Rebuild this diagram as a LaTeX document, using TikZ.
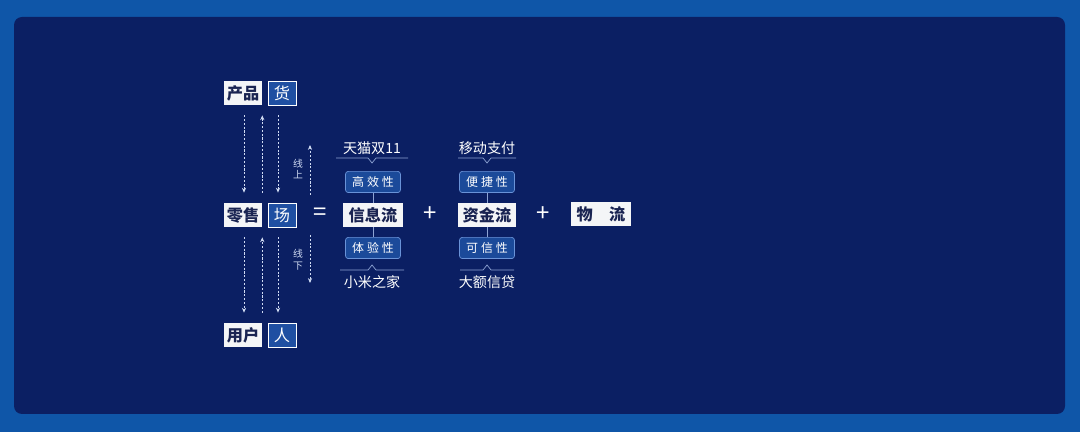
\documentclass[tikz,border=0pt]{standalone}
\usepackage{fontspec}
\setmainfont{Noto Sans CJK SC}
\usetikzlibrary{arrows.meta}

\definecolor{pagebg}{HTML}{0F56A8}
\definecolor{panelbg}{HTML}{0B1F63}
\definecolor{boxwhite}{HTML}{F4F5F7}
\definecolor{ink}{HTML}{1A2452}
\definecolor{tileblue}{HTML}{1F4FA2}
\definecolor{featfill}{HTML}{1B4A9A}
\definecolor{featrim}{HTML}{6A93D8}
\definecolor{dashcol}{HTML}{CFDAF2}
\definecolor{rulecol}{HTML}{8EA4D4}

\tikzset{
  word/.style={fill=boxwhite, text=ink, minimum height=0.6cm, inner sep=0pt, font=\bfseries\fontsize{11.5}{12}\selectfont},
  tile/.style={fill=tileblue, draw=white, line width=0.5pt, minimum width=0.7cm, minimum height=0.6cm, inner sep=0pt, text=white, font=\fontsize{11.5}{12}\selectfont},
  trait/.style={fill=featfill, draw=featrim, line width=0.5pt, rounded corners=2pt, minimum width=1.375cm, minimum height=0.53cm, inner sep=0pt, text=white, font=\fontsize{8.5}{9}\selectfont},
  capt/.style={text=white, inner sep=0pt, font=\fontsize{10}{10}\selectfont},
  opsign/.style={text=white, inner sep=0pt, font=\fontsize{17}{17}\selectfont},
  sidetag/.style={text=dashcol, inner sep=0pt, align=center, font=\fontsize{7}{8.5}\selectfont},
  dflow/.style={draw=dashcol, line width=0.55pt, dash pattern=on 1.5pt off 1.2pt, arrows={-Stealth[length=3.5pt,width=3pt]}},
  stem/.style={draw=rulecol, line width=0.6pt},
  notch/.style={draw=rulecol, line width=0.5pt},
}

\begin{document}
\begin{tikzpicture}[x=0.025cm, y=-0.025cm]
  \fill[pagebg] (0,0) rectangle (1080,432);
  \fill[panelbg, rounded corners=0.2cm] (14,17) rectangle (1065,414);

  % goods, field, people
  \node[word, minimum width=0.95cm] (prod) at (243,93) {产品};
  \node[tile] (goods) at (282,93) {货};
  \node[word, minimum width=0.95cm] (ret) at (243,215) {零售};
  \node[tile] (field) at (282,215) {场};
  \node[word, minimum width=0.95cm] (user) at (243,335) {用户};
  \node[tile] (man) at (282,335) {人};

  \foreach \ra/\rb/\sa/\sb in {prod/goods/ret/field, ret/field/user/man}{
    \draw[dflow] ([shift={(1,10)}]\ra.south) -- ([shift={(1,-10)}]\sa.north);
    \draw[dflow] ([shift={(0,-10)}]\sa.north east) -- ([shift={(0,10)}]\ra.south east);
    \draw[dflow] ([shift={(-4,10)}]\rb.south) -- ([shift={(-4,-10)}]\sb.north);
  }

  % online / offline
  \coordinate (onlo) at (310,195);
  \coordinate (onhi) at (310,145);
  \draw[dflow] (onlo) -- (onhi);
  \node[sidetag] (ontag) at (298,169) {线\\上};
  \coordinate (offhi) at (310,235);
  \coordinate (offlo) at (310,283);
  \draw[dflow] (offhi) -- (offlo);
  \node[sidetag] (offtag) at (298,260) {线\\下};

  \node[opsign] (eq) at (320,214) {=};

  % information flow
  \node[word, minimum width=1.5cm] (info) at (373,215) {信息流};
  \node[trait] (fast) at (373,182) {高\hspace{0.25em}效\hspace{0.25em}性};
  \node[trait] (feel) at (373,248) {体\hspace{0.25em}验\hspace{0.25em}性};
  \draw[stem] (fast) -- (info);
  \draw[stem] (info) -- (feel);
  \node[capt] (tmall) at (372,148) {天猫双11};
  \node[capt] (mihome) at (372,282) {小米之家};
  \draw[notch] (336,158) -- (368,158) -- (372,163) -- (376,158) -- (408,158);
  \draw[notch] (340,270) -- (368,270) -- (372,265) -- (376,270) -- (404,270);

  \node[opsign] (plusa) at (430,214) {+};

  % money flow
  \node[word, minimum width=1.45cm] (cash) at (487,215) {资金流};
  \node[trait] (easy) at (487,182) {便\hspace{0.25em}捷\hspace{0.25em}性};
  \node[trait] (trust) at (487,248) {可\hspace{0.25em}信\hspace{0.25em}性};
  \draw[stem] (easy) -- (cash);
  \draw[stem] (cash) -- (trust);
  \node[capt] (mpay) at (487,148) {移动支付};
  \node[capt] (credit) at (487,282) {大额信贷};
  \draw[notch] (458,158) -- (483,158) -- (487,163) -- (491,158) -- (516,158);
  \draw[notch] (460,270) -- (483,270) -- (487,265) -- (491,270) -- (514,270);

  \node[opsign] (plusb) at (543,214) {+};

  % logistics
  \node[word, minimum width=1.5cm] (logi) at (601,214) {物\hspace{1em}流};
\end{tikzpicture}
\end{document}
